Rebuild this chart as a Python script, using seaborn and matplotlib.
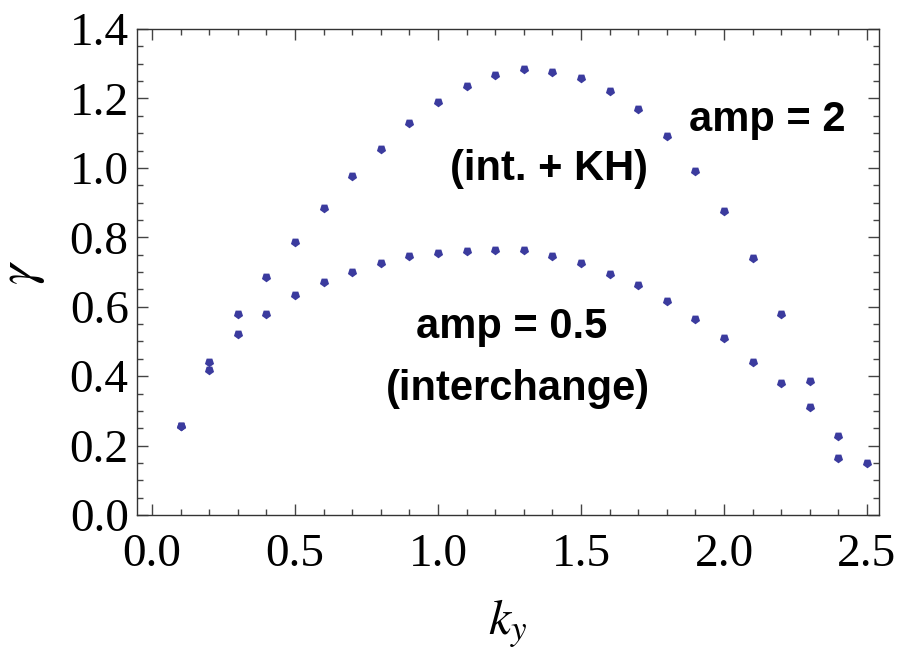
import matplotlib
matplotlib.use("Agg")
import matplotlib.pyplot as plt
import numpy as np
import pandas as pd
import seaborn as sns

# Growth rate versus wavenumber for two perturbation amplitudes
ky_amp2 = [0.1, 0.2, 0.3, 0.4, 0.5, 0.6, 0.7, 0.8, 0.9, 1.0, 1.1, 1.2, 1.3,
           1.4, 1.5, 1.6, 1.7, 1.8, 1.9, 2.0, 2.1, 2.2, 2.3, 2.4]
gamma_amp2 = [0.256, 0.440, 0.580, 0.686, 0.787, 0.885, 0.977, 1.055, 1.130,
              1.190, 1.236, 1.268, 1.285, 1.277, 1.259, 1.222, 1.170, 1.092,
              0.991, 0.876, 0.741, 0.579, 0.386, 0.228]

ky_amp05 = [0.1, 0.2, 0.3, 0.4, 0.5, 0.6, 0.7, 0.8, 0.9, 1.0, 1.1, 1.2, 1.3,
            1.4, 1.5, 1.6, 1.7, 1.8, 1.9, 2.0, 2.1, 2.2, 2.3, 2.4, 2.5]
gamma_amp05 = [0.256, 0.418, 0.520, 0.580, 0.634, 0.671, 0.700, 0.726, 0.747,
               0.755, 0.761, 0.764, 0.764, 0.747, 0.726, 0.694, 0.663, 0.617,
               0.565, 0.510, 0.441, 0.380, 0.311, 0.164, 0.150]

x_ticks = [0.0, 0.5, 1.0, 1.5, 2.0, 2.5]
y_ticks = [0.0, 0.2, 0.4, 0.6, 0.8, 1.0, 1.2, 1.4]

df = pd.concat([
    pd.DataFrame({"ky": ky_amp2, "gamma": gamma_amp2, "amp": "2"}),
    pd.DataFrame({"ky": ky_amp05, "gamma": gamma_amp05, "amp": "0.5"}),
], ignore_index=True)

sns.set_theme(style="ticks")
plt.rcParams["font.family"] = ["Liberation Serif", "DejaVu Serif"]
plt.rcParams["mathtext.fontset"] = "stix"

fig = plt.figure(figsize=(8.99, 6.57), dpi=100)
ax = fig.add_axes([137 / 899, 1 - 515 / 657, (879 - 137) / 899, (515 - 29) / 657])

point_color = "#3b3b9e"
sns.scatterplot(data=df, x="ky", y="gamma", ax=ax, color=point_color,
                marker=(5, 0, 180), s=48, linewidth=0, legend=False)

ax.set_xlim(-0.0524, 2.542)
ax.set_ylim(0.0, 1.4)
ax.set_xticks(x_ticks)
ax.set_yticks(y_ticks)
ax.set_xticklabels([f"{v:.1f}" for v in x_ticks])
ax.set_yticklabels([f"{v:.1f}" for v in y_ticks])
ax.set_xticks(np.arange(0.0, 2.55, 0.1), minor=True)
ax.set_yticks(np.arange(0.0, 1.41, 0.05), minor=True)

ax.tick_params(which="both", direction="in", top=True, right=True,
               color="#444444", width=1.0, labelcolor="black")
ax.tick_params(which="major", length=8)
ax.tick_params(which="minor", length=4.5)
ax.tick_params(axis="x", which="major", labelsize=34, pad=13)
ax.tick_params(axis="y", which="major", labelsize=34, pad=6)
for side in ax.spines.values():
    side.set_color("#333333")
    side.set_linewidth(1.0)

ax.set_xlabel(r"$k_y$", fontsize=36, labelpad=16, color="black")
ax.set_ylabel(r"$\gamma$", fontsize=38, labelpad=16, color="black")

label_font = dict(family=["Liberation Sans", "DejaVu Sans"], fontweight="bold",
                  fontsize=30, ha="center", va="baseline", color="black")
ax.text(2.152, 1.107, "amp = 2", **label_font)
ax.text(1.388, 0.965, "(int. + KH)", **label_font)
ax.text(1.259, 0.510, "amp = 0.5", **label_font)
ax.text(1.281, 0.331, "(interchange)", **label_font)

fig.savefig("out.png", dpi=100)
